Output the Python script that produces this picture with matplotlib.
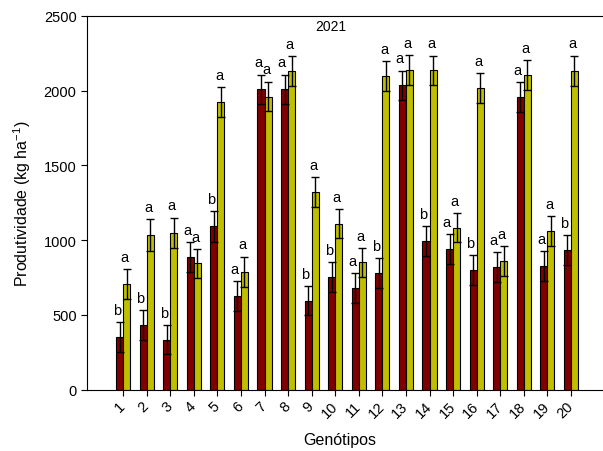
import matplotlib.pyplot as plt
import numpy as np

plt.rcParams['font.family'] = ['Liberation Sans', 'DejaVu Sans']
plt.rcParams['mathtext.fontset'] = 'custom'
plt.rcParams['mathtext.rm'] = 'Liberation Sans'
plt.rcParams['mathtext.it'] = 'Liberation Sans:italic'

# data
genotipos = [str(i) for i in range(1, 21)]
red_vals = [352, 434, 334, 889, 1092, 626, 2010, 2010, 595, 753,
            677, 778, 2036, 994, 940, 800, 820, 1959, 827, 934]
red_err = [100, 100, 98, 100, 103, 100, 98, 98, 98, 98,
           101, 100, 98, 100, 98, 100, 100, 100, 100, 100]
yel_vals = [708, 1034, 1047, 844, 1923, 789, 1961, 2132, 1321, 1110,
            851, 2099, 2137, 2137, 1083, 2017, 860, 2104, 1061, 2134]
yel_err = [99, 106, 103, 98, 100, 100, 100, 101, 101, 98,
           98, 100, 102, 98, 97, 102, 100, 99, 99, 101]
red_letters = ['b', 'b', 'b', 'a', 'b', 'a', 'a', 'a', 'b', 'b',
               'a', 'b', 'a', 'b', 'a', 'b', 'a', 'a', 'a', 'b']
yel_letters = ['a'] * 20

x = np.arange(1, 21)
w = 0.3

fig = plt.figure(figsize=(6.03, 4.52), dpi=100)
ax = fig.add_axes([0.1443, 0.136, 0.8557, 0.8264])

ax.bar(x - w/2, red_vals, w, color='#800000', edgecolor='black', linewidth=0.8,
       yerr=red_err, error_kw=dict(ecolor='black', elinewidth=1, capsize=3, capthick=1))
ax.bar(x + w/2, yel_vals, w, color='#BFBF00', edgecolor='black', linewidth=0.8,
       yerr=yel_err, error_kw=dict(ecolor='black', elinewidth=1, capsize=3, capthick=1))

for i in range(20):
    ax.text(x[i] - w/2 - 0.12, red_vals[i] + red_err[i] + 35, red_letters[i],
            ha='center', va='bottom', fontsize=10.5)
    ax.text(x[i] + w/2 - 0.08, yel_vals[i] + yel_err[i] + 35, yel_letters[i],
            ha='center', va='bottom', fontsize=10.5)

ax.set_xlim(-0.53, 21.36)
ax.set_ylim(0, 2500)
ax.set_yticks([0, 500, 1000, 1500, 2000, 2500])
ax.set_xticks(x)
ax.set_xticklabels(genotipos, rotation=45, ha='right', va='center', rotation_mode='anchor')
ax.tick_params(axis='x', labelsize=10.5, length=4, pad=6)
ax.tick_params(axis='y', labelsize=10.5, length=4)
ax.spines['right'].set_visible(False)

ax.text(0.473, 0.973, '2021', transform=ax.transAxes, ha='center', va='center', fontsize=10)

ax.set_ylabel('Produtividade (kg ha$^{-1}$)', fontsize=11.5)
ax.yaxis.set_label_coords(-0.126, 0.5)
ax.set_xlabel('Genótipos', fontsize=11.5)
ax.xaxis.set_label_coords(0.49, -0.1325)
ax.xaxis.label.set_va('center')
ax.yaxis.label.set_va('center')

plt.savefig('out.png')
